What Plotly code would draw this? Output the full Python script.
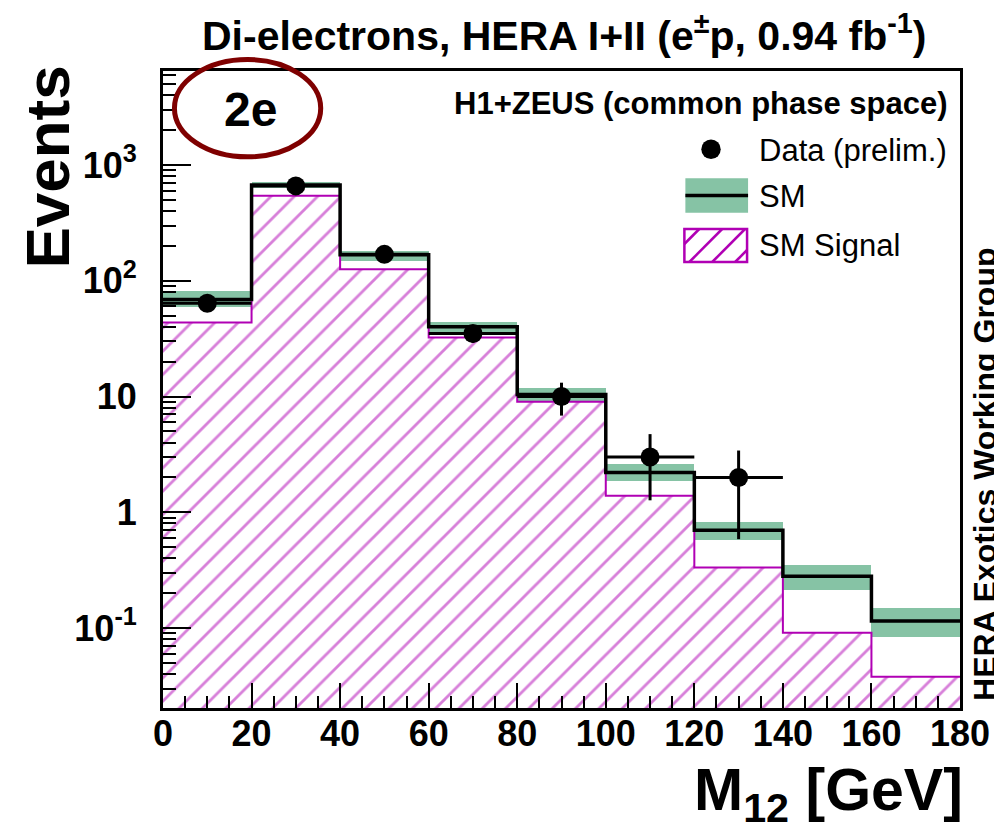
import numpy as np
import plotly.graph_objects as go

# ---------------- data ----------------
bin_edges = [0, 20, 40, 60, 80, 100, 120, 140, 160, 180]
sm_total = [69, 672, 168, 40, 10.4, 2.2, 0.70, 0.28, 0.115]
sm_low = [59, 630, 147, 36.3, 9.0, 1.87, 0.575, 0.213, 0.083]
sm_high = [81, 718, 180, 44.3, 11.8, 2.6, 0.83, 0.35, 0.148]
sm_signal = [43.5, 543, 126, 32.4, 9.0, 1.39, 0.334, 0.091, 0.038]
data_counts = [64, 660, 169, 35, 10, 3, 2]

x_ticks = [0, 20, 40, 60, 80, 100, 120, 140, 160, 180]
y_tickvals = [0.1, 1, 10, 100, 1000]
y_ticktext = ["10<sup>-1</sup>", "1", "10", "10<sup>2</sup>", "10<sup>3</sup>"]

# ---------------- styles ----------------
FONT = "Liberation Sans, Arial, Helvetica, sans-serif"
MAG = "#b000b4"
GREEN = "#86c3a5"
DARKRED = "#7f0000"

OFF = 8                     # page body margin
W, H = 1002 - OFF, 838 - OFF
L, R, T, B = 163, 964, 71, 708  # plot frame in page pixels


def px(x):
    return (x - L) / (R - L)


def py(y):
    return (B - y) / (B - T)


edges = np.array(bin_edges, dtype=float)
centers = (edges[:-1] + edges[1:]) / 2
widths = np.diff(edges)
sm_low_a = np.array(sm_low)
sm_high_a = np.array(sm_high)

fig = go.Figure()

# SM signal (hatched)
fig.add_trace(go.Bar(
    x=centers, y=sm_signal, width=widths,
    marker=dict(color="rgba(0,0,0,0)", line=dict(width=0),
                pattern=dict(shape="/", fgcolor=MAG, bgcolor="rgba(0,0,0,0)",
                             size=16.5, solidity=0.17, fillmode="overlay")),
    showlegend=False, hoverinfo="skip"))

# SM uncertainty band
fig.add_trace(go.Bar(
    x=centers, y=sm_high_a - sm_low_a, base=sm_low_a, width=widths,
    marker=dict(color=GREEN, line=dict(width=0)),
    showlegend=False, hoverinfo="skip"))

# signal outline (step)
fig.add_trace(go.Scatter(
    x=list(edges), y=list(sm_signal) + [sm_signal[-1]],
    mode="lines", line=dict(color=MAG, width=2, shape="hv"),
    showlegend=False, hoverinfo="skip"))

# SM total (step)
fig.add_trace(go.Scatter(
    x=list(edges), y=list(sm_total) + [sm_total[-1]],
    mode="lines", line=dict(color="black", width=3.5, shape="hv"),
    showlegend=False, hoverinfo="skip"))

# data
nd = len(data_counts)
fig.add_trace(go.Scatter(
    x=centers[:nd], y=data_counts, mode="markers",
    marker=dict(color="black", size=19, symbol="circle"),
    error_y=dict(type="data", array=list(np.sqrt(data_counts)), symmetric=True,
                 color="black", thickness=3, width=0),
    error_x=dict(type="data", array=list(widths[:nd] / 2), symmetric=True,
                 color="black", thickness=3, width=0),
    showlegend=False, hoverinfo="skip"))

fig.update_layout(
    width=W, height=H,
    margin=dict(l=L - OFF, r=W - (R - OFF), t=T - OFF, b=H - (B - OFF), pad=0),
    paper_bgcolor="white", plot_bgcolor="white",
    barmode="overlay", bargap=0,
    font=dict(family=FONT, color="black"),
    showlegend=False,
)

fig.update_xaxes(
    range=[0, 180], showgrid=False, zeroline=False,
    showline=True, linecolor="black", linewidth=3, mirror=True,
    tickmode="array", tickvals=x_ticks, ticktext=[str(v) for v in x_ticks],
    ticks="inside", ticklen=25, tickwidth=2, tickcolor="black",
    minor=dict(ticks="inside", ticklen=12, tickwidth=2, tickcolor="black", dtick=5, tick0=0),
    tickfont=dict(family=FONT, size=36, color="black", weight="bold"),
    ticklabelstandoff=-8,
)

fig.update_yaxes(
    type="log", range=[-1.691, 3.812], showgrid=False, zeroline=False,
    showline=True, linecolor="black", linewidth=3, mirror=True,
    tickmode="array", tickvals=y_tickvals, ticktext=y_ticktext,
    ticks="inside", ticklen=28, tickwidth=2, tickcolor="black",
    minor=dict(ticks="inside", ticklen=13, tickwidth=2, tickcolor="black",
               tickmode="array",
               tickvals=[m * 10.0 ** e for e in range(-2, 4) for m in range(2, 10)]),
    tickfont=dict(family=FONT, size=36, color="black", weight="bold"),
    ticklabelstandoff=16,
)

ann = []
# title
ann.append(dict(x=px(566), y=py(33), xref="paper", yref="paper",
                text="Di-electrons, HERA I+II (e<sup>±</sup>p, 0.94 fb<sup>-1</sup>)",
                showarrow=False, xanchor="center", yanchor="middle",
                font=dict(family=FONT, size=41, color="black", weight="bold")))
# y title
ann.append(dict(x=px(46), y=py(167), xref="paper", yref="paper",
                text="Events", textangle=-90,
                showarrow=False, xanchor="center", yanchor="middle",
                font=dict(family=FONT, size=62, color="black", weight="bold")))
# x title
ann.append(dict(x=px(969), y=py(794), xref="paper", yref="paper",
                text="M<sub>12</sub> [GeV]",
                showarrow=False, xanchor="right", yanchor="middle",
                font=dict(family=FONT, size=59, color="black", weight="bold")))
# 2e
ann.append(dict(x=px(251), y=py(110), xref="paper", yref="paper",
                text="2e", showarrow=False, xanchor="center", yanchor="middle",
                font=dict(family=FONT, size=48, color="black", weight="bold")))
# H1+ZEUS
ann.append(dict(x=px(954), y=py(103), xref="paper", yref="paper",
                text="H1+ZEUS (common phase space)", showarrow=False,
                xanchor="right", yanchor="middle",
                font=dict(family=FONT, size=31, color="black", weight="bold")))
# legend texts
for txt, yy in [("Data (prelim.)", 150), ("SM", 197), ("SM Signal", 245)]:
    ann.append(dict(x=px(760), y=py(yy), xref="paper", yref="paper",
                    text=txt, showarrow=False, xanchor="left", yanchor="middle",
                    font=dict(family=FONT, size=31, color="black")))
# side label
ann.append(dict(x=px(989), y=py(474), xref="paper", yref="paper",
                text="HERA Exotics Working Group", textangle=-90,
                showarrow=False, xanchor="center", yanchor="middle",
                font=dict(family=FONT, size=32, color="black", weight="bold")))

shapes = []
# ellipse around 2e
shapes.append(dict(type="circle", xref="paper", yref="paper",
                   x0=px(174.5), x1=px(321.5), y0=py(156.8), y1=py(59.5),
                   line=dict(color=DARKRED, width=5), layer="above"))
# legend: data dot
shapes.append(dict(type="circle", xref="paper", yref="paper",
                   x0=px(704), x1=px(723.5), y0=py(159), y1=py(139.5),
                   fillcolor="black", line=dict(color="black", width=0), layer="above"))
# legend: SM band + line
shapes.append(dict(type="rect", xref="paper", yref="paper",
                   x0=px(688), x1=px(751), y0=py(212.7), y1=py(178.3),
                   fillcolor=GREEN, line=dict(width=0), layer="above"))
shapes.append(dict(type="line", xref="paper", yref="paper",
                   x0=px(688), x1=px(751), y0=py(195.5), y1=py(195.5),
                   line=dict(color="black", width=3.5), layer="above"))
# legend: hatched box
bx0, bx1, by0, by1 = 687, 750, 229, 262
spacing = 23.0
k = bx0 + by0 - 8
while k < bx1 + by1:
    pts = []
    for yy in (by0, by1):
        xx = k - yy
        if bx0 <= xx <= bx1:
            pts.append((xx, yy))
    for xx in (bx0, bx1):
        yy = k - xx
        if by0 < yy < by1:
            pts.append((xx, yy))
    if len(pts) >= 2:
        (xa, ya), (xb, yb) = pts[0], pts[1]
        shapes.append(dict(type="line", xref="paper", yref="paper",
                           x0=px(xa), y0=py(ya), x1=px(xb), y1=py(yb),
                           line=dict(color=MAG, width=2.5), layer="above"))
    k += spacing
shapes.append(dict(type="rect", xref="paper", yref="paper",
                   x0=px(bx0), x1=px(bx1), y0=py(by1), y1=py(by0),
                   fillcolor="rgba(0,0,0,0)", line=dict(color=MAG, width=2.5), layer="above"))

fig.update_layout(annotations=ann, shapes=shapes)

fig.write_html("out.html")
